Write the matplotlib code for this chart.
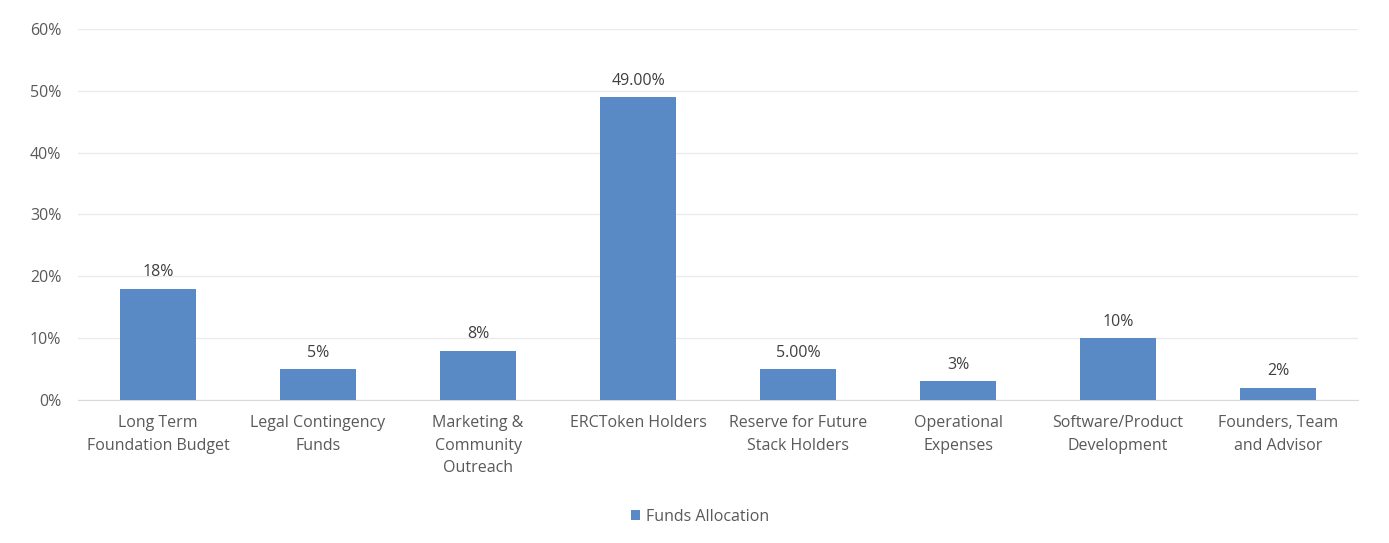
import matplotlib
matplotlib.use("Agg")
import matplotlib.pyplot as plt
from matplotlib.ticker import PercentFormatter

categories = [
    "Long Term\nFoundation Budget",
    "Legal Contingency\nFunds",
    "Marketing &\nCommunity\nOutreach",
    "ERCToken Holders",
    "Reserve for Future\nStack Holders",
    "Operational\nExpenses",
    "Software/Product\nDevelopment",
    "Founders, Team\nand Advisor",
]
allocation = [0.18, 0.05, 0.08, 0.49, 0.05, 0.03, 0.10, 0.02]
value_labels = ["18%", "5%", "8%", "49.00%", "5.00%", "3%", "10%", "2%"]

plt.rcParams["font.family"] = ["Open Sans", "DejaVu Sans"]
text_col = "#595959"
fs = 11.5

fig = plt.figure(figsize=(13.89, 5.43), dpi=100)
ax = fig.add_axes([0.0562, 0.2634, 0.9215, 0.6832])

x = range(len(categories))
bars = ax.bar(x, allocation, width=0.48, color="#5A8AC6", label="Funds Allocation", zorder=3)
for b, lab in zip(bars, value_labels):
    ax.annotate(lab, (b.get_x() + b.get_width() / 2, b.get_height()),
                xytext=(0, 6), textcoords="offset points",
                ha="center", va="bottom", fontsize=fs, color="#404040")

ax.set_xlim(-0.5, len(categories) - 0.5)
ax.set_ylim(0, 0.6)
ax.set_yticks([0, 0.1, 0.2, 0.3, 0.4, 0.5, 0.6])
ax.yaxis.set_major_formatter(PercentFormatter(1.0, decimals=0))
ax.set_xticks(list(x))
ax.set_xticklabels(categories, fontsize=fs, color=text_col, linespacing=1.55)
ax.tick_params(axis="y", labelsize=fs, labelcolor=text_col, length=0, pad=12)
ax.tick_params(axis="x", length=0, pad=11)
ax.grid(axis="y", color="#EBEBEB", linewidth=1, zorder=0)
for side in ["top", "right", "left"]:
    ax.spines[side].set_visible(False)
ax.spines["bottom"].set_color("#D9D9D9")

fig.legend(loc="center", bbox_to_anchor=(0.504, 0.048), frameon=False,
           fontsize=fs, labelcolor=text_col, handlelength=0.55, handleheight=0.55,
           handletextpad=0.4)

fig.savefig("out.png", dpi=100)
